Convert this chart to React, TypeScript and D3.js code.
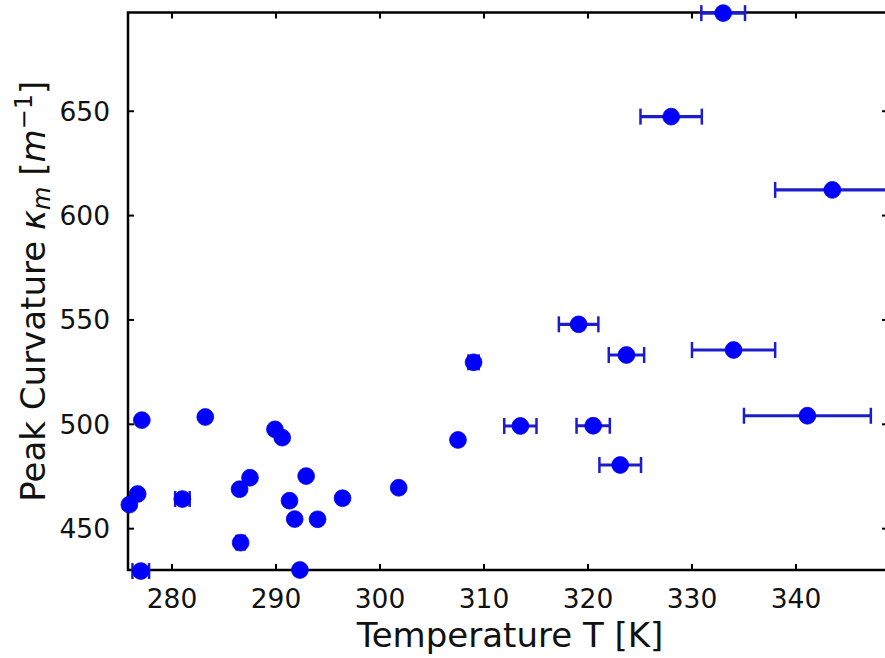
import React from "react";
import * as d3 from "d3";

const temperatures = [277.1, 283.2, 289.9, 290.6, 276.7, 275.9, 281.0, 287.5, 286.5, 292.9, 291.3, 291.8, 294.0, 286.6, 277.0, 292.3, 296.4, 301.8, 307.5, 309.0, 319.1, 323.7, 313.5, 320.5, 323.1, 334.0, 341.1, 333.0, 328.0, 343.5];
const curvatures = [502, 503.5, 497.6, 493.6, 466.6, 461.5, 464.2, 474.4, 468.9, 475.2, 463.4, 454.6, 454.5, 443.3, 429.7, 430.2, 464.6, 469.6, 492.5, 529.7, 547.9, 533.2, 499.2, 499.3, 480.5, 535.6, 504.1, 697.0, 647.4, 612.3];
const tempErrors = [0, 0, 0, 0, 0, 0, 0.7, 0, 0, 0, 0, 0, 0, 0.4, 0.8, 0, 0, 0, 0, 0.5, 1.9, 1.7, 1.55, 1.6, 2.0, 4.0, 6.1, 2.1, 2.95, 5.5];
const xTicks = [280, 290, 300, 310, 320, 330, 340];
const yTicks = [450, 500, 550, 600, 650];

const W = 885;
const H = 658;
const FONT = "DejaVu Sans, sans-serif";

export default function App() {
  const x = d3.scaleLinear().domain([275.77, 348.85]).range([128, 888]);
  const y = d3.scaleLinear().domain([430.2, 697.3]).range([570, 12.5]);
  const [x0, x1] = x.range();
  const [y0, y1] = y.range();
  const tickLen = 6;
  const blue = "#0000ff";
  const errColor = "#1c1cc8";
  const data = temperatures.map((t, i) => ({ t, k: curvatures[i], e: tempErrors[i] }));

  return (
    <svg width={W} height={H} style={{ position: "absolute", left: 0, top: 0, background: "#fff" }} fontFamily={FONT}>
      <rect x={0} y={0} width={W} height={H} fill="#fff" />
      {/* ticks */}
      {xTicks.map((v) => (
        <g key={"xt" + v}>
          <line x1={x(v)} x2={x(v)} y1={y0} y2={y0 - tickLen} stroke="#000" strokeWidth={2} />
          <line x1={x(v)} x2={x(v)} y1={y1} y2={y1 + tickLen} stroke="#000" strokeWidth={2} />
          <text x={x(v)} y={608} fontSize={26.5} textAnchor="middle" fill="#111">{v}</text>
        </g>
      ))}
      {yTicks.map((v) => (
        <g key={"yt" + v}>
          <line x1={x0} x2={x0 + tickLen} y1={y(v)} y2={y(v)} stroke="#000" strokeWidth={2} />
          <line x1={x1} x2={x1 - tickLen} y1={y(v)} y2={y(v)} stroke="#000" strokeWidth={2} />
          <text x={110} y={y(v)} fontSize={26.5} textAnchor="end" dominantBaseline="central" fill="#111">{v}</text>
        </g>
      ))}
      {/* spines */}
      <rect x={x0} y={y1} width={x1 - x0} height={y0 - y1} fill="none" stroke="#000" strokeWidth={2.5} />
      {/* error bars */}
      {data.filter((d) => d.e > 0).map((d, i) => (
        <g key={"e" + i} stroke={errColor}>
          <line x1={x(d.t - d.e)} x2={x(d.t + d.e)} y1={y(d.k)} y2={y(d.k)} strokeWidth={3.2} />
          <line x1={x(d.t - d.e)} x2={x(d.t - d.e)} y1={y(d.k) - 8} y2={y(d.k) + 8} strokeWidth={2.5} />
          <line x1={x(d.t + d.e)} x2={x(d.t + d.e)} y1={y(d.k) - 8} y2={y(d.k) + 8} strokeWidth={2.5} />
        </g>
      ))}
      {/* markers */}
      {data.map((d, i) => (
        <circle key={"p" + i} cx={x(d.t)} cy={y(d.k)} r={8.4} fill={blue} stroke="#0000e6" strokeWidth={0.8} />
      ))}
      {/* axis labels */}
      <text x={(x0 + x1) / 2 + 2} y={647} fontSize={34} textAnchor="middle" fill="#111">Temperature T [K]</text>
      <text transform={`translate(45, ${(y0 + y1) / 2}) rotate(-90)`} fontSize={34} textAnchor="middle" fill="#111">
        <tspan>Peak Curvature </tspan>
        <tspan fontStyle="italic">κ</tspan>
        <tspan fontStyle="italic" fontSize={24} dy={5}>m</tspan>
        <tspan dy={-5}> [</tspan>
        <tspan fontStyle="italic">m</tspan>
        <tspan fontSize={24} dy={-13}>−1</tspan>
        <tspan dy={13}>]</tspan>
      </text>
    </svg>
  );
}
